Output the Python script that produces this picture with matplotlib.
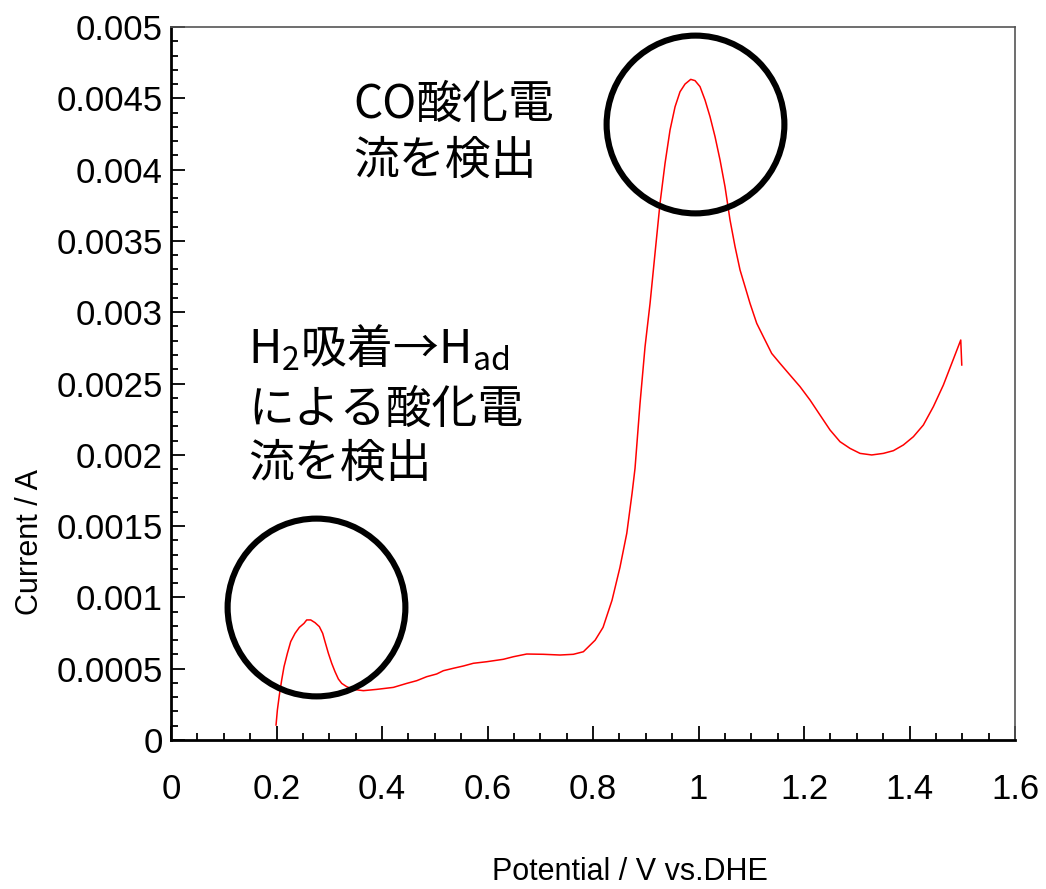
import matplotlib
matplotlib.use("Agg")
import matplotlib.pyplot as plt
from matplotlib.ticker import MultipleLocator
import numpy as np

# CO stripping voltammogram
potential = [0.1991, 0.2016, 0.2054, 0.2098, 0.2142, 0.2206, 0.2269, 0.2351, 0.2433, 0.2521,
             0.2572, 0.2648, 0.2730, 0.2812, 0.2875, 0.2919, 0.2983, 0.3046, 0.3109, 0.3172,
             0.3236, 0.3330, 0.3457, 0.3646, 0.3899, 0.4215, 0.4468, 0.4658, 0.4847, 0.5036,
             0.5163, 0.5352, 0.5542, 0.5731, 0.5985, 0.6300, 0.6490, 0.6743, 0.7058, 0.7374,
             0.7627, 0.7817, 0.804, 0.819, 0.836, 0.851, 0.864, 0.874,
             0.8796, 0.8891, 0.8986, 0.9081, 0.9175, 0.9270, 0.9365, 0.9460, 0.9555, 0.9649,
             0.9744, 0.9852, 0.9934, 1.0028, 1.0123, 1.0218, 1.0313, 1.0408, 1.0502, 1.0597,
             1.0692, 1.0787, 1.0882, 1.0976, 1.1103, 1.1229, 1.1387, 1.1545, 1.1735, 1.1924,
             1.2114, 1.2303, 1.2493, 1.2682, 1.2872, 1.3062, 1.3283, 1.3504, 1.3694, 1.3883,
             1.4073, 1.4262, 1.4452, 1.4641, 1.4800, 1.4971, 1.4990]
current = [0.000105, 0.000210, 0.000316, 0.000421, 0.000514, 0.000608, 0.000690, 0.000748, 0.000790, 0.000818,
           0.000842, 0.000842, 0.000823, 0.000795, 0.000748, 0.000690, 0.000608, 0.000538, 0.000479, 0.000428,
           0.000397, 0.000374, 0.000355, 0.000346, 0.000355, 0.000369, 0.000397, 0.000416, 0.000444, 0.000463,
           0.000486, 0.000503, 0.000519, 0.000538, 0.000549, 0.000566, 0.000584, 0.000603, 0.000601, 0.000596,
           0.000601, 0.000619, 0.00070, 0.00079, 0.00098, 0.00121, 0.00145, 0.00173,
           0.001905, 0.002361, 0.002758, 0.003062, 0.003413, 0.003764, 0.004044, 0.004278, 0.004441, 0.004546,
           0.004600, 0.004633, 0.004624, 0.004582, 0.004488, 0.004371, 0.004231, 0.004067, 0.003880, 0.003647,
           0.003460, 0.003296, 0.003179, 0.003062, 0.002922, 0.002828, 0.002711, 0.002641, 0.002559, 0.002478,
           0.002384, 0.002279, 0.002174, 0.002092, 0.002045, 0.002010, 0.001999, 0.002010, 0.002029, 0.002069,
           0.002127, 0.002209, 0.002338, 0.002489, 0.002641, 0.002805, 0.002630]

# highlighted regions (circle centres)
circle_x = [0.275, 0.993]
circle_y = [0.00093, 0.00432]

xtick_labels = ['0', '0.2', '0.4', '0.6', '0.8', '1', '1.2', '1.4', '1.6']
ytick_labels = ['0', '0.0005', '0.001', '0.0015', '0.002', '0.0025',
                '0.003', '0.0035', '0.004', '0.0045', '0.005']

arial = ['Liberation Sans', 'DejaVu Sans']
jp = ['Noto Sans CJK JP', 'DejaVu Sans']
plt.rcParams['mathtext.fontset'] = 'custom'
plt.rcParams['mathtext.rm'] = 'Noto Sans CJK JP'

fig = plt.figure(figsize=(10.46, 8.89), dpi=100)
ax = fig.add_axes([0.1635, 0.1676, 0.8069, 0.802])

ax.plot(potential, current, color='red', lw=1.1)
ax.plot(circle_x, circle_y, 'o', ms=128, mfc='none', mec='black', mew=4.4)

ax.set_xlim(0, 1.6)
ax.set_ylim(0, 0.005)
ax.set_xticks(np.arange(0, 1.61, 0.2))
ax.set_xticklabels(xtick_labels)
ax.set_yticks(np.arange(0, 0.00501, 0.0005))
ax.set_yticklabels(ytick_labels)
ax.xaxis.set_minor_locator(MultipleLocator(0.05))
ax.yaxis.set_minor_locator(MultipleLocator(0.0001))
ax.tick_params(which='both', direction='in', width=1.3, color='black')
ax.tick_params(which='major', length=10)
ax.tick_params(which='minor', length=5)
ax.tick_params(axis='x', which='major', pad=24)
ax.tick_params(axis='y', which='major', pad=6)
for lab in ax.get_xticklabels() + ax.get_yticklabels():
    lab.set_family(arial)
    lab.set_fontsize(25)

ax.spines['left'].set_linewidth(2)
ax.spines['bottom'].set_linewidth(2)
for s in ['top', 'right']:
    ax.spines[s].set_linewidth(1.2)
    ax.spines[s].set_color('#555555')

fig.text(30 / 1046, 1 - 542 / 889, 'Current / A', rotation=90, ha='center', va='center',
         fontsize=22, family=arial)
fig.text(630 / 1046, 1 - 872 / 889, 'Potential / V vs.DHE', ha='center', va='center',
         fontsize=22, family=arial)

# annotations
def px(x, y):
    return x / 1046, 1 - y / 889

fig.text(*px(353, 118), 'CO酸化電', fontsize=33, family=jp, va='baseline')
fig.text(*px(353, 174), '流を検出', fontsize=33, family=jp, va='baseline')
fig.text(*px(248, 362), r'H$_{\mathrm{2}}$吸着→H$_{\mathrm{ad}}$', fontsize=33, family=jp, va='baseline')
fig.text(*px(248, 423), 'による酸化電', fontsize=33, family=jp, va='baseline')
fig.text(*px(248, 477), '流を検出', fontsize=33, family=jp, va='baseline')

fig.savefig('out.png', dpi=100)
